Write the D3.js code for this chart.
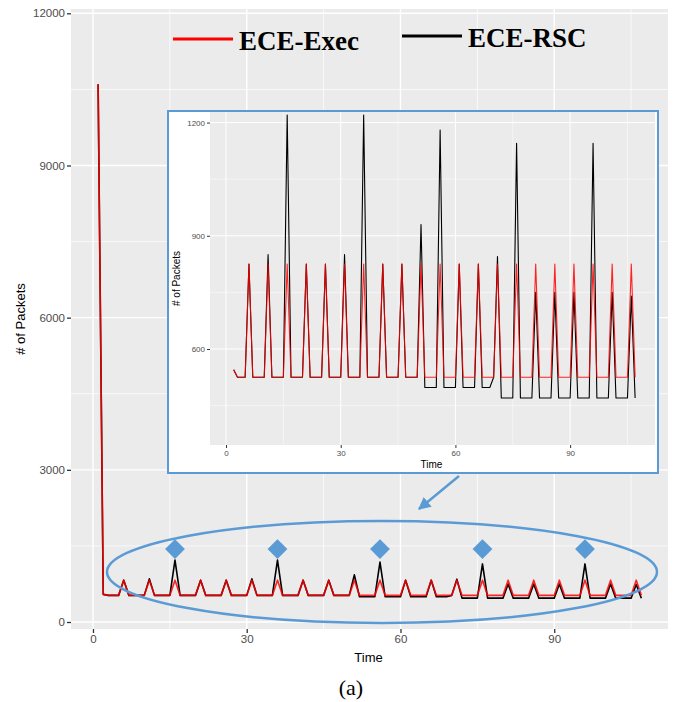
<!DOCTYPE html>
<html lang="en">
<head>
  <meta charset="UTF-8">
  <title>ECE packets</title>
  <script src="https://d3js.org/d3.v7.min.js"></script>
  <style>
    body { margin: 0; background: #fff; }
    svg { display: block; }
    .tick text { fill: #4d4d4d; font-family: "Liberation Sans", Arial, sans-serif; }
    .tick line { stroke: #333; }
    .domain { display: none; }
  </style>
</head>
<body>
<svg id="chart" width="673" height="702"></svg>
<script>
  // time steps 1..107
  const time = d3.range(1, 108);

  // peaks every 5 steps, starting at t=6
  const peakTimes = [6, 11, 16, 21, 26, 31, 36, 41, 46, 51, 56, 61, 66, 71, 76, 81, 86, 91, 96, 101, 106];
  const execPeaks = [825, 825, 825, 825, 825, 825, 825, 825, 825, 825, 825, 825, 825, 825, 825, 825, 825, 825, 825, 825, 825];
  const rscPeaks = [825, 850, 1220, 825, 825, 850, 1220, 825, 825, 930, 1180, 825, 825, 845, 1145, 750, 750, 750, 1145, 750, 740];

  // base level of each series (value between peaks)
  const execBase = [
    10600, 545, 525, 525, 525, 525, 525, 525, 525, 525,
    525, 525, 525, 525, 525, 525, 525, 525, 525, 525,
    525, 525, 525, 525, 525, 525, 525, 525, 525, 525,
    525, 525, 525, 525, 525, 525, 525, 525, 525, 525,
    525, 525, 525, 525, 525, 525, 525, 525, 525, 525,
    525, 525, 525, 525, 525, 525, 525, 525, 525, 525,
    525, 525, 525, 525, 525, 525, 525, 525, 525, 525,
    525, 525, 525, 525, 525, 525, 525, 525, 525, 525,
    525, 525, 525, 525, 525, 525, 525, 525, 525, 525,
    525, 525, 525, 525, 525, 525, 525, 525, 525, 525,
    525, 525, 525, 525, 525, 525, 525
  ];
  const rscBase = [
    10600, 545, 525, 525, 525, 525, 525, 525, 525, 525,
    525, 525, 525, 525, 525, 525, 525, 525, 525, 525,
    525, 525, 525, 525, 525, 525, 525, 525, 525, 525,
    525, 525, 525, 525, 525, 525, 525, 525, 525, 525,
    525, 525, 525, 525, 525, 525, 525, 525, 525, 525,
    525, 498, 498, 498, 498, 498, 498, 498, 498, 498,
    498, 498, 498, 498, 498, 498, 498, 498, 498, 525,
    525, 470, 470, 470, 470, 470, 470, 470, 470, 470,
    470, 470, 470, 470, 470, 470, 470, 470, 470, 470,
    470, 470, 470, 470, 470, 470, 470, 470, 470, 470,
    470, 470, 470, 470, 470, 470, 470
  ];

  // times marked with a diamond in the main chart
  const markTimes = [16, 36, 56, 76, 96];

  const mainXTicks = [0, 30, 60, 90];
  const mainYTicks = [0, 3000, 6000, 9000, 12000];
  const mainYMinor = [1500, 4500, 7500, 10500];
  const xMinor = [15, 45, 75, 105];
  const insetYTicks = [600, 900, 1200];
  const insetYMinor = [450, 750, 1050];

  function series(base, peaks) {
    return time.map((t, i) => {
      const k = peakTimes.indexOf(t);
      return { t: t, v: k >= 0 ? peaks[k] : base[i] };
    });
  }
  const exec = series(execBase, execPeaks);
  const rsc = series(rscBase, rscPeaks);

  const svg = d3.select('#chart');

  function panel(x, y, o) {
    const g = svg.append('g');
    const [x0, x1] = x.range();
    const [y0, y1] = y.range();
    g.append('rect')
      .attr('x', x0).attr('y', y1)
      .attr('width', x1 - x0).attr('height', y0 - y1)
      .attr('fill', '#ebebeb');
    // minor grid
    g.selectAll('.hmin').data(o.yMinor).join('line')
      .attr('x1', x0).attr('x2', x1)
      .attr('y1', d => y(d)).attr('y2', d => y(d))
      .attr('stroke', '#fff').attr('stroke-width', o.minorW);
    g.selectAll('.vmin').data(xMinor).join('line')
      .attr('y1', y0).attr('y2', y1)
      .attr('x1', d => x(d)).attr('x2', d => x(d))
      .attr('stroke', '#fff').attr('stroke-width', o.minorW);
    // major grid
    g.selectAll('.hmaj').data(o.yTicks).join('line')
      .attr('x1', x0).attr('x2', x1)
      .attr('y1', d => y(d)).attr('y2', d => y(d))
      .attr('stroke', '#fff').attr('stroke-width', o.majorW);
    g.selectAll('.vmaj').data(mainXTicks).join('line')
      .attr('y1', y0).attr('y2', y1)
      .attr('x1', d => x(d)).attr('x2', d => x(d))
      .attr('stroke', '#fff').attr('stroke-width', o.majorW);

    const ax = g.append('g')
      .attr('transform', `translate(0,${y0})`)
      .call(d3.axisBottom(x).tickValues(mainXTicks).tickFormat(d3.format('d'))
        .tickSize(o.tick).tickPadding(2));
    ax.selectAll('text').style('font-size', o.font + 'px');
    ax.selectAll('line').attr('stroke-width', o.tickW);
    const ay = g.append('g')
      .attr('transform', `translate(${x0},0)`)
      .call(d3.axisLeft(y).tickValues(o.yTicks).tickFormat(d3.format('d'))
        .tickSize(o.tick).tickPadding(2));
    ay.selectAll('text').style('font-size', o.font + 'px');
    ay.selectAll('line').attr('stroke-width', o.tickW);

    const line = d3.line().x(d => x(d.t)).y(d => y(d.v));
    g.append('path').datum(o.rsc).attr('d', line)
      .attr('fill', 'none').attr('stroke', '#000').attr('stroke-width', o.lineW)
      .attr('stroke-linejoin', 'round');
    g.append('path').datum(o.exec).attr('d', line)
      .attr('fill', 'none').attr('stroke', '#ff0000').attr('stroke-width', o.lineW)
      .attr('stroke-opacity', 0.85).attr('stroke-linejoin', 'round');

    g.append('text')
      .attr('x', (x0 + x1) / 2 + o.titleDx).attr('y', o.xTitleY)
      .attr('text-anchor', 'middle')
      .style('font-family', '"Liberation Sans", Arial, sans-serif')
      .style('font-size', o.titleFont + 'px')
      .text('Time');
    g.append('text')
      .attr('transform', `translate(${o.yTitleX},${(y0 + y1) / 2}) rotate(-90)`)
      .attr('text-anchor', 'middle')
      .style('font-family', '"Liberation Sans", Arial, sans-serif')
      .style('font-size', o.titleFont + 'px')
      .text('# of Packets');
    return g;
  }

  // main chart
  const x = d3.scaleLinear().domain([-4.29, 112.2]).range([71, 668]);
  const y = d3.scaleLinear().domain([-138, 12085]).range([629, 9]);
  panel(x, y, {
    yTicks: mainYTicks, yMinor: mainYMinor, exec: exec, rsc: rsc,
    minorW: 0.7, majorW: 1.4, tick: 4, tickW: 1.3, font: 11.5, lineW: 1.6,
    titleFont: 13, xTitleY: 662, yTitleX: 25, titleDx: -1
  });

  // legend
  const legend = [
    { name: 'ECE-Exec', color: '#ff0000', x: 173, y: 39 },
    { name: 'ECE-RSC', color: '#000', x: 402, y: 36 }
  ];
  legend.forEach(l => {
    svg.append('line')
      .attr('x1', l.x).attr('x2', l.x + 60)
      .attr('y1', l.y).attr('y2', l.y)
      .attr('stroke', l.color).attr('stroke-width', 3);
    svg.append('text')
      .attr('x', l.x + 66).attr('y', l.y + 11)
      .style('font-family', '"Liberation Serif", "Times New Roman", serif')
      .style('font-weight', 'bold').style('font-size', '27px')
      .text(l.name);
  });

  // highlight ellipse and diamonds
  const blue = '#5b9bd5';
  svg.append('ellipse')
    .attr('cx', 382).attr('cy', 572).attr('rx', 275).attr('ry', 51)
    .attr('fill', 'none').attr('stroke', blue).attr('stroke-width', 2.5);
  svg.selectAll('.mark').data(markTimes).join('rect')
    .attr('x', -7).attr('y', -7).attr('width', 14).attr('height', 14)
    .attr('transform', d => `translate(${x(d)},${y(1220) - 11}) rotate(45)`)
    .attr('fill', blue);

  // arrow from inset to ellipse
  svg.append('defs').append('marker')
    .attr('id', 'arr').attr('viewBox', '0 0 10 10')
    .attr('refX', 9).attr('refY', 5)
    .attr('markerWidth', 5).attr('markerHeight', 5)
    .attr('orient', 'auto')
    .append('path').attr('d', 'M0,0L10,5L0,10Z').attr('fill', blue);
  svg.append('line')
    .attr('x1', 459).attr('y1', 476).attr('x2', 419).attr('y2', 509)
    .attr('stroke', blue).attr('stroke-width', 2.5)
    .attr('marker-end', 'url(#arr)');

  // inset (zoom of t >= 2)
  svg.append('rect')
    .attr('x', 168).attr('y', 111).attr('width', 490).attr('height', 362)
    .attr('fill', '#fff').attr('stroke', blue).attr('stroke-width', 2);
  const xi = d3.scaleLinear().domain([-4.19, 112.2]).range([210, 655]);
  const yi = d3.scaleLinear().domain([345.6, 1228]).range([445, 112]);
  panel(xi, yi, {
    yTicks: insetYTicks, yMinor: insetYMinor,
    exec: exec.filter(d => d.t >= 2), rsc: rsc.filter(d => d.t >= 2),
    minorW: 0.5, majorW: 1, tick: 3, tickW: 1, font: 8, lineW: 1.1,
    titleFont: 10, xTitleY: 468, yTitleX: 180, titleDx: -1
  });

  // caption
  svg.append('text')
    .attr('x', 351).attr('y', 695)
    .attr('text-anchor', 'middle')
    .style('font-family', '"Liberation Serif", "Times New Roman", serif')
    .style('font-size', '22px')
    .text('(a)');
</script>
</body>
</html>
